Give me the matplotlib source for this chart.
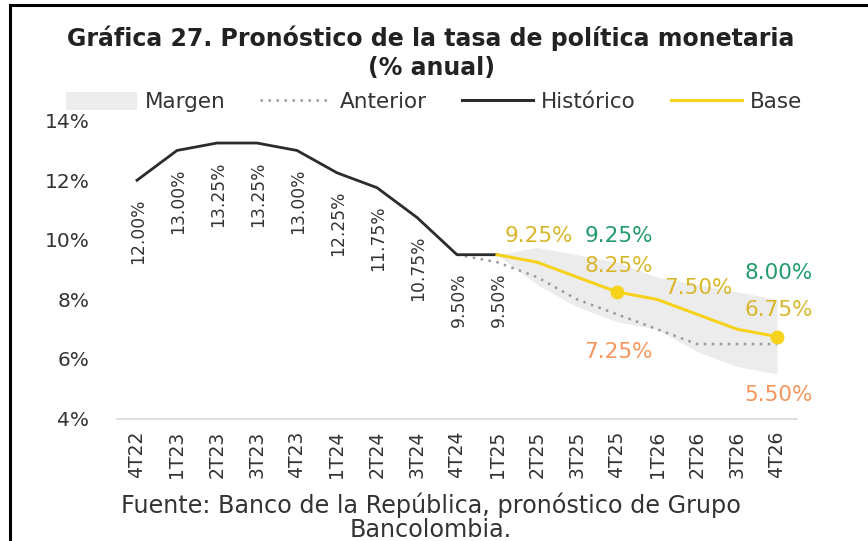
import matplotlib
matplotlib.use("Agg")
import matplotlib.pyplot as plt
from matplotlib.lines import Line2D
from matplotlib.patches import Patch

# quarters on the x axis
quarters = ["4T22", "1T23", "2T23", "3T23", "4T23", "1T24", "2T24", "3T24", "4T24",
            "1T25", "2T25", "3T25", "4T25", "1T26", "2T26", "3T26", "4T26"]

# observed policy rate, 4T22..1T25
historico = [12.00, 13.00, 13.25, 13.25, 13.00, 12.25, 11.75, 10.75, 9.50, 9.50]
# forecasts, 1T25..4T26
base = [9.50, 9.25, 8.75, 8.25, 8.00, 7.50, 7.00, 6.75]
margen_sup = [9.50, 9.75, 9.50, 9.25, 8.75, 8.50, 8.25, 8.00]
margen_inf = [9.50, 8.50, 7.75, 7.25, 7.00, 6.25, 5.75, 5.50]
# previous forecast, 4T24..4T26
anterior = [9.50, 9.25, 8.75, 8.00, 7.50, 7.00, 6.50, 6.50, 6.50]

# which forecast points get a label
base_lbl = ["2T25", "4T25", "2T26", "4T26"]
sup_lbl = ["4T25", "4T26"]
inf_lbl = ["4T25", "4T26"]
base_dots = ["4T25", "4T26"]

yticks = [4, 6, 8, 10, 12, 14]

C_HIST = "#2b2b2b"
C_BASE = "#f6d21c"
C_BASE_TXT = "#d8b62a"
C_UP = "#239a6c"
C_LOW = "#f6955c"
C_BAND = "#ececec"
C_ANT = "#9a9a9a"
FONT = "DejaVu Sans"

xi = {q: i for i, q in enumerate(quarters)}
x_hist = list(range(len(historico)))
x_fc = list(range(xi["1T25"], len(quarters)))
x_ant = list(range(xi["4T24"], len(quarters)))

fig = plt.figure(figsize=(8.68, 5.41), dpi=100)
ax = fig.add_axes([117 / 868, 1 - 418.5 / 541, (797 - 117) / 868, (418.5 - 120.7) / 541])

ax.fill_between(x_fc, margen_inf, margen_sup, color=C_BAND, lw=0, zorder=1)
ax.plot(x_ant, anterior, ls=(0, (1, 2.2)), color=C_ANT, lw=1.8, zorder=2)
ax.plot(x_hist, historico, color=C_HIST, lw=2.0, zorder=3, solid_joinstyle="round")
ax.plot(x_fc, base, color=C_BASE, lw=2.2, zorder=4, solid_joinstyle="round")
ax.plot([xi[q] for q in base_dots], [base[xi[q] - x_fc[0]] for q in base_dots], "o",
        color=C_BASE, ms=9, zorder=5)

# rotated labels under the historical points
for x, v in zip(x_hist, historico):
    ax.annotate(f"{v:.2f}%", (x, v), xytext=(1, -13), textcoords="offset points",
                rotation=90, ha="center", va="top", fontsize=12.3, color="#333333",
                family=FONT)

for q in base_lbl:
    v = base[xi[q] - x_fc[0]]
    ax.annotate(f"{v:.2f}%", (xi[q], v), xytext=(1, 19), textcoords="offset points",
                ha="center", va="center", fontsize=15.5, color=C_BASE_TXT, family=FONT)
for q in sup_lbl:
    v = margen_sup[xi[q] - x_fc[0]]
    ax.annotate(f"{v:.2f}%", (xi[q], v), xytext=(1, 19), textcoords="offset points",
                ha="center", va="center", fontsize=15.5, color=C_UP, family=FONT)
for q, dy in zip(inf_lbl, [-22, -15]):
    v = margen_inf[xi[q] - x_fc[0]]
    ax.annotate(f"{v:.2f}%", (xi[q], v), xytext=(1, dy), textcoords="offset points",
                ha="center", va="center", fontsize=15.5, color=C_LOW, family=FONT)

ax.set_xlim(-0.5, len(quarters) - 0.5)
ax.set_ylim(4, 14)
ax.set_xticks(range(len(quarters)))
ax.set_xticklabels(quarters, rotation=90, fontsize=13.5, color="#333333", family=FONT)
ax.set_yticks(yticks)
ax.set_yticklabels([f"{t}%" for t in yticks], fontsize=14.5, color="#333333", family=FONT)
ax.tick_params(axis="both", length=0)
ax.tick_params(axis="y", pad=20)
ax.tick_params(axis="x", pad=9)
for s in ["top", "right", "left"]:
    ax.spines[s].set_visible(False)
ax.spines["bottom"].set_color("#d9d9d9")
ax.spines["bottom"].set_linewidth(1.2)
ax.patch.set_alpha(0)

handles = [Patch(fc=C_BAND, ec="none"),
           Line2D([], [], ls=(0, (1, 2.2)), color=C_ANT, lw=1.8),
           Line2D([], [], color=C_HIST, lw=2.2),
           Line2D([], [], color=C_BASE, lw=2.2)]
fig.legend(handles, ["Margen", "Anterior", "Histórico", "Base"], loc="center",
           bbox_to_anchor=(434 / 868, 1 - 102 / 541), ncol=4, frameon=False,
           prop={"family": FONT, "size": 15.5}, handlelength=3.3, handleheight=0.9,
           handletextpad=0.4, columnspacing=1.6, labelcolor="#333333")

fig.text(431 / 868, 1 - 38 / 541, "Gráfica 27. Pronóstico de la tasa de política monetaria",
         ha="center", va="center", fontsize=17, weight="bold", family=FONT,
         color="#222222")
fig.text(431 / 868, 1 - 68 / 541, "(% anual)", ha="center", va="center", fontsize=17,
         weight="bold", family=FONT, color="#222222")
fig.text(431 / 868, 1 - 505 / 541, "Fuente: Banco de la República, pronóstico de Grupo",
         ha="center", va="center", fontsize=17.2, family=FONT, color="#333333")
fig.text(431 / 868, 1 - 530 / 541, "Bancolombia.", ha="center", va="center", fontsize=17.2,
         family=FONT, color="#333333")

# frame of the original screenshot
fig.add_artist(Line2D([10 / 868, 1], [1 - 5 / 541] * 2, color="black", lw=2.2))
fig.add_artist(Line2D([10 / 868] * 2, [0, 1 - 5 / 541], color="black", lw=2.2))

fig.savefig("out.png", dpi=100)
